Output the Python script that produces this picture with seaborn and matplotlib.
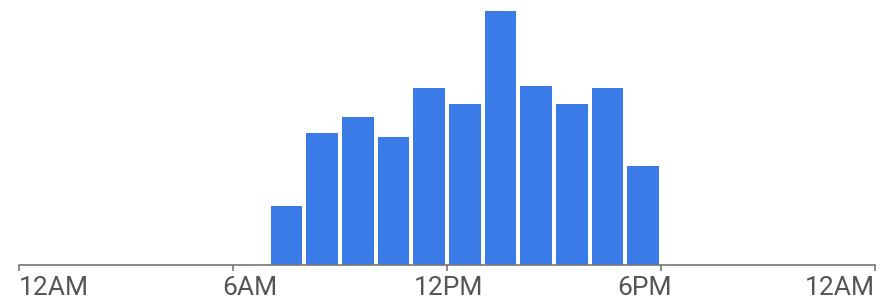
import matplotlib
matplotlib.use("Agg")
import matplotlib.pyplot as plt
import matplotlib.transforms as mtransforms
import seaborn as sns
import pandas as pd

hours = [7, 8, 9, 10, 11, 12, 13, 14, 15, 16, 17]
values = [59, 132, 148, 128, 177, 161, 254, 179, 161, 177, 99]
tick_hours = [0, 6, 12, 18, 24]
tick_labels = ["12AM", "6AM", "12PM", "6PM", "12AM"]

sns.set_theme(style="white")
plt.rcParams['font.family'] = ['Roboto', 'DejaVu Sans']

df = pd.DataFrame({"x": [h + 0.5 for h in hours], "v": values})

fig = plt.figure(figsize=(8.82, 3.07), dpi=100)
ax = fig.add_axes([19 / 882, 1 - 265 / 307, (875 - 19) / 882, (265 - 11) / 307])
sns.barplot(data=df, x="x", y="v", native_scale=True, width=0.88,
            color="#3b7be8", saturation=1, ax=ax, edgecolor="none")

ax.set_xlim(0, 24)
ax.set_ylim(0, max(values))
ax.set_xlabel("")
ax.set_ylabel("")
ax.set_yticks([])
for s in ["top", "left", "right"]:
    ax.spines[s].set_visible(False)
ax.spines["bottom"].set_color("#777777")
ax.spines["bottom"].set_linewidth(1.2)
ax.set_xticks(tick_hours)
ax.set_xticklabels(tick_labels)
ax.tick_params(axis="x", bottom=True, length=4, width=1.2, color="#777777",
               labelsize=19, labelcolor="#555555", pad=4)

offsets_px = [0, 17, 2, -16, 0]
aligns = ["left", "center", "center", "center", "right"]
for lab, dx, ha in zip(ax.get_xticklabels(), offsets_px, aligns):
    lab.set_ha(ha)
    lab.set_transform(lab.get_transform() + mtransforms.ScaledTranslation(dx / 100, 0, fig.dpi_scale_trans))

fig.savefig("out.png", dpi=100)
